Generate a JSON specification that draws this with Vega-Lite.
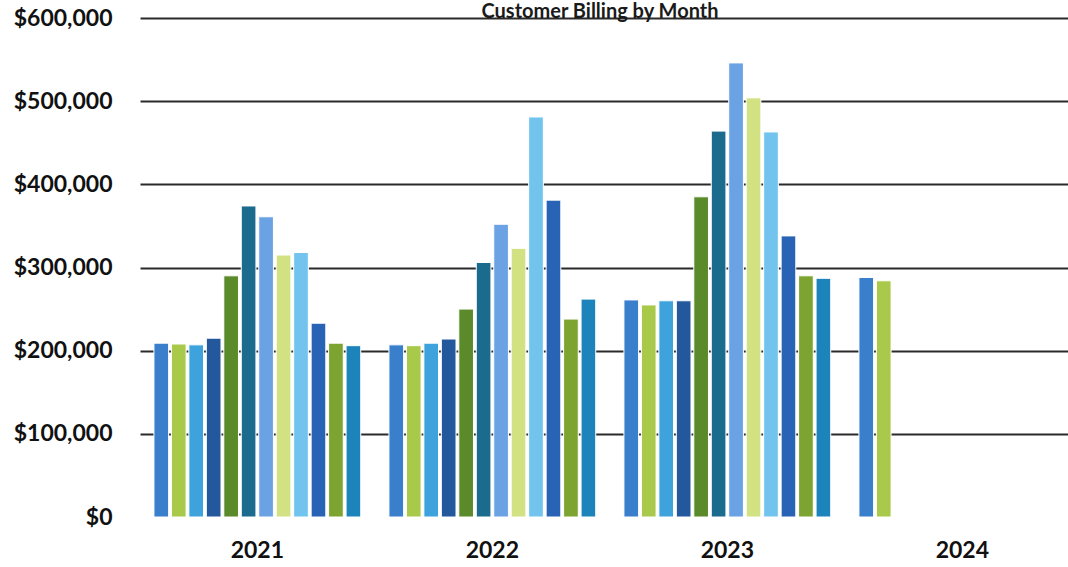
{
  "$schema": "https://vega.github.io/schema/vega-lite/v6.json",
  "width": 928,
  "height": 499,
  "autosize": {"type": "none"},
  "padding": {"left": 140, "top": 18, "right": 0, "bottom": 50},
  "background": "white",
  "view": {"stroke": null},
  "title": {
    "text": "Customer Billing by Month",
    "font": "Lato",
    "fontSize": 20,
    "fontWeight": "bold",
    "color": "#1a1a1a",
    "anchor": "middle",
    "offset": -15,
    "dx": -4
  },
  "data": {
    "values": [
      {"year": "2021", "month": 1, "billing": 209000},
      {"year": "2021", "month": 2, "billing": 208000},
      {"year": "2021", "month": 3, "billing": 207000},
      {"year": "2021", "month": 4, "billing": 215000},
      {"year": "2021", "month": 5, "billing": 290000},
      {"year": "2021", "month": 6, "billing": 374000},
      {"year": "2021", "month": 7, "billing": 361000},
      {"year": "2021", "month": 8, "billing": 315000},
      {"year": "2021", "month": 9, "billing": 318000},
      {"year": "2021", "month": 10, "billing": 233000},
      {"year": "2021", "month": 11, "billing": 209000},
      {"year": "2021", "month": 12, "billing": 206000},
      {"year": "2022", "month": 1, "billing": 207000},
      {"year": "2022", "month": 2, "billing": 206000},
      {"year": "2022", "month": 3, "billing": 209000},
      {"year": "2022", "month": 4, "billing": 214000},
      {"year": "2022", "month": 5, "billing": 250000},
      {"year": "2022", "month": 6, "billing": 306000},
      {"year": "2022", "month": 7, "billing": 352000},
      {"year": "2022", "month": 8, "billing": 323000},
      {"year": "2022", "month": 9, "billing": 481000},
      {"year": "2022", "month": 10, "billing": 381000},
      {"year": "2022", "month": 11, "billing": 238000},
      {"year": "2022", "month": 12, "billing": 262000},
      {"year": "2023", "month": 1, "billing": 261000},
      {"year": "2023", "month": 2, "billing": 255000},
      {"year": "2023", "month": 3, "billing": 260000},
      {"year": "2023", "month": 4, "billing": 260000},
      {"year": "2023", "month": 5, "billing": 385000},
      {"year": "2023", "month": 6, "billing": 464000},
      {"year": "2023", "month": 7, "billing": 546000},
      {"year": "2023", "month": 8, "billing": 504000},
      {"year": "2023", "month": 9, "billing": 463000},
      {"year": "2023", "month": 10, "billing": 338000},
      {"year": "2023", "month": 11, "billing": 290000},
      {"year": "2023", "month": 12, "billing": 287000},
      {"year": "2024", "month": 1, "billing": 288000},
      {"year": "2024", "month": 2, "billing": 284000}
    ]
  },
  "mark": {"type": "bar", "stroke": "white", "strokeWidth": 1},
  "encoding": {
    "x": {
      "field": "year",
      "type": "nominal",
      "scale": {"paddingInner": 0.12, "paddingOuter": 0.0345, "align": 0.86},
      "axis": {
        "title": null,
        "labelAngle": 0,
        "domain": false,
        "ticks": false,
        "labelFont": "Lato",
        "labelFontSize": 23,
        "labelFontWeight": "bold",
        "labelColor": "#111111",
        "labelPadding": 22
      }
    },
    "xOffset": {
      "field": "month",
      "type": "ordinal",
      "scale": {"paddingInner": 0.16, "paddingOuter": 0}
    },
    "y": {
      "field": "billing",
      "type": "quantitative",
      "scale": {"domain": [0, 600000]},
      "axis": {
        "title": null,
        "values": [0, 100000, 200000, 300000, 400000, 500000, 600000],
        "format": "$,.0f",
        "domain": false,
        "ticks": false,
        "labelFont": "Lato",
        "labelFontSize": 23,
        "labelFontWeight": "bold",
        "labelColor": "#111111",
        "labelPadding": 28,
        "grid": true,
        "gridWidth": 2,
        "gridColor": {"condition": {"test": "datum.value === 0", "value": "transparent"}, "value": "#2a2a2a"}
      }
    },
    "color": {
      "field": "month",
      "type": "ordinal",
      "scale": {
        "domain": [1, 2, 3, 4, 5, 6, 7, 8, 9, 10, 11, 12],
        "range": ["#3a7fcc", "#a9c94a", "#3ea3dc", "#23589c", "#5b8a2b", "#1b6b8e", "#6aa2e3", "#d2e282", "#72c3ee", "#2863b5", "#7da431", "#1d83bb"]
      },
      "legend": null
    }
  }
}
